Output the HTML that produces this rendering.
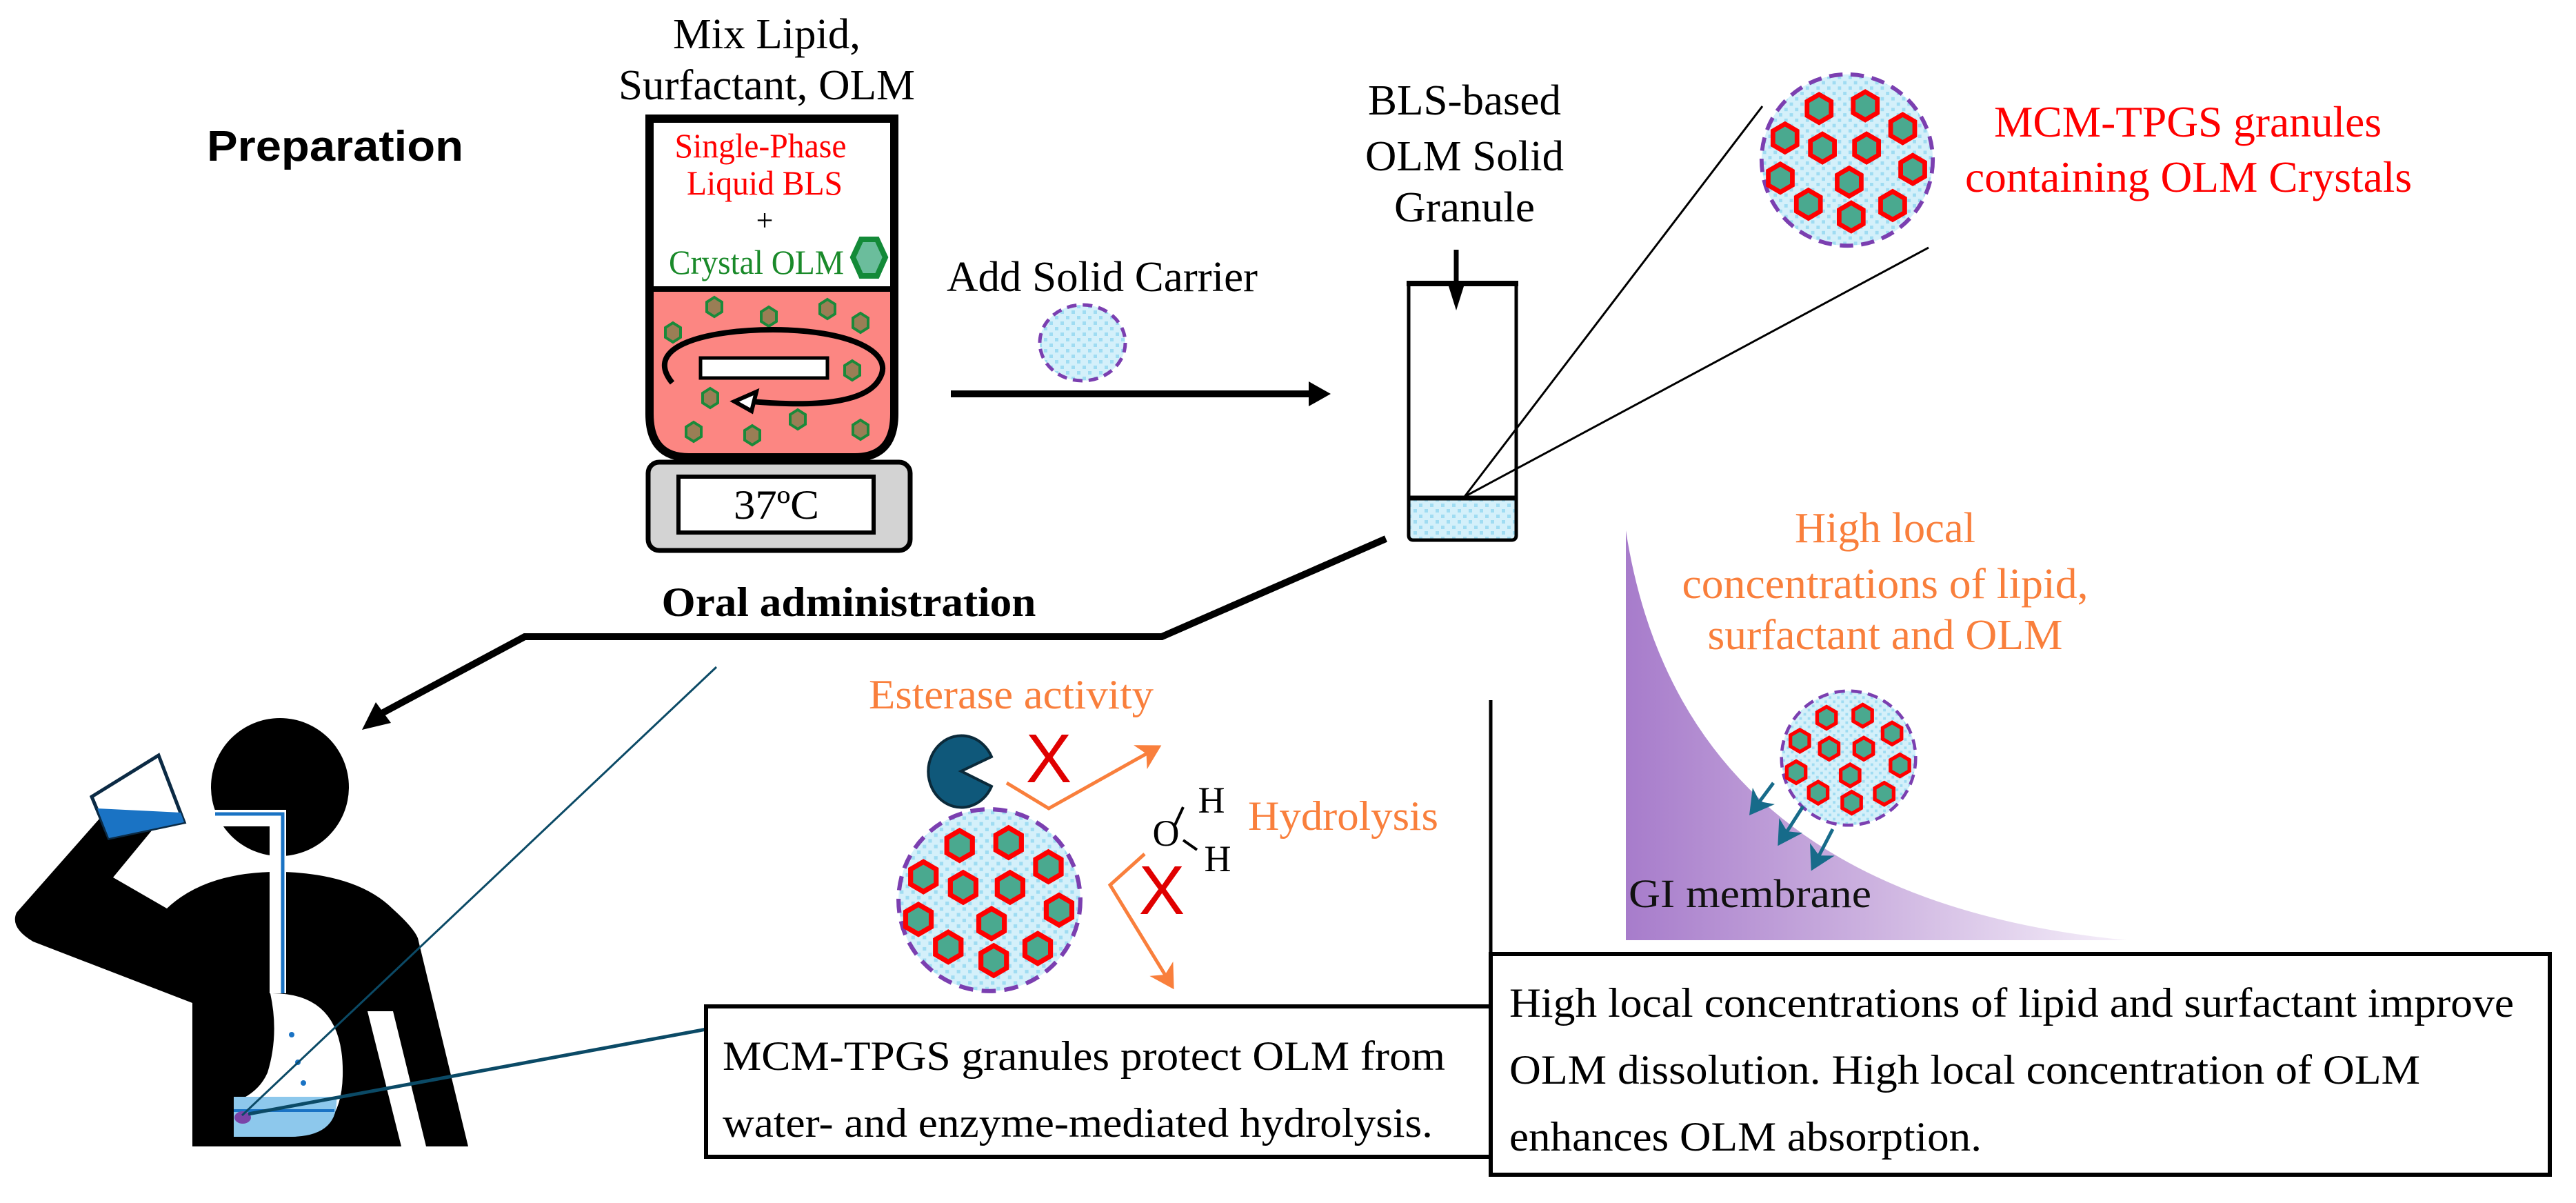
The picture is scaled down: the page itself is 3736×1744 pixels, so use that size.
<!DOCTYPE html>
<html><head><meta charset="utf-8"><style>html,body{margin:0;padding:0;background:#fff}svg{display:block}</style></head>
<body>
<svg xmlns="http://www.w3.org/2000/svg" width="3736" height="1744" viewBox="0 0 3736 1744" font-family="'Liberation Serif', serif">
<defs>
<pattern id="dots" width="16" height="16" patternUnits="userSpaceOnUse">
<rect width="16" height="16" fill="#d4f0fa"/>
<rect x="2" y="2" width="5" height="5" fill="#9fdcf2"/><rect x="10" y="10" width="5" height="5" fill="#9fdcf2"/>
</pattern>
<linearGradient id="pg" x1="0" y1="0" x2="1" y2="0">
<stop offset="0" stop-color="#a77ccb"/><stop offset="0.5" stop-color="#cdb3e0"/><stop offset="1" stop-color="#f6f0fa"/>
</linearGradient>
<polygon id="hx" points="0,-21 18,-10.5 18,10.5 0,21 -18,10.5 -18,-10.5" fill="#4aa98f" stroke="#ff0000" stroke-width="7"/>
<polygon id="sh" points="0,-14 11,-7 11,7 0,14 -11,7 -11,-7" fill="#9a7e55" stroke="#1a8a3a" stroke-width="4"/>
<g id="gran">
<circle r="128" fill="url(#dots)" stroke="#7b3fb0" stroke-width="6" stroke-dasharray="20 12"/>
<use href="#hx" x="-42" y="-77"/><use href="#hx" x="27" y="-81"/><use href="#hx" x="83" y="-47"/>
<use href="#hx" x="-93" y="-33"/><use href="#hx" x="-37" y="-18"/><use href="#hx" x="29" y="-18"/>
<use href="#hx" x="98" y="14"/><use href="#hx" x="-100" y="27"/><use href="#hx" x="3" y="33"/>
<use href="#hx" x="-58" y="66"/><use href="#hx" x="6" y="85"/><use href="#hx" x="68" y="68"/>
</g>
<marker id="ao" markerWidth="8" markerHeight="8" refX="6" refY="4" orient="auto" markerUnits="strokeWidth"><path d="M0,0 L7,4 L0,8 L2,4 Z" fill="#f97f3c"/></marker>
<marker id="at" markerWidth="8" markerHeight="8" refX="6" refY="4" orient="auto" markerUnits="strokeWidth"><path d="M0,0 L7,4 L0,8 L2,4 Z" fill="#176b8a"/></marker>
</defs>

<text x="300" y="233" font-family="'Liberation Sans', sans-serif" font-weight="bold" font-size="62" textLength="372" lengthAdjust="spacingAndGlyphs">Preparation</text>
<text x="1112" y="70" font-size="62" text-anchor="middle" textLength="272" lengthAdjust="spacingAndGlyphs">Mix Lipid,</text>
<text x="1112" y="144" font-size="62" text-anchor="middle" textLength="430" lengthAdjust="spacingAndGlyphs">Surfactant, OLM</text>

<path d="M942,419 L1297,419 L1297,600 Q1297,663 1240,663 L999,663 Q942,663 942,600 Z" fill="#fc8682"/>
<path d="M942,172 L1297,172 L1297,600 Q1297,663 1240,663 L999,663 Q942,663 942,600 Z" fill="none" stroke="#000" stroke-width="12"/>
<line x1="942" y1="419" x2="1297" y2="419" stroke="#000" stroke-width="8"/>
<text x="1103" y="228" font-size="50" fill="#ff0000" text-anchor="middle" textLength="249" lengthAdjust="spacingAndGlyphs">Single-Phase</text>
<text x="1109" y="282" font-size="50" fill="#ff0000" text-anchor="middle" textLength="226" lengthAdjust="spacingAndGlyphs">Liquid BLS</text>
<text x="1109" y="334" font-size="44" text-anchor="middle">+</text>
<text x="1097" y="397" font-size="50" fill="#1a8a2a" text-anchor="middle" textLength="254" lengthAdjust="spacingAndGlyphs">Crystal OLM</text>
<polygon points="1249,347 1272,347 1284,373 1272,400 1249,400 1237,373" fill="#6bbd9c" stroke="#138a38" stroke-width="8"/>
<g>
<use href="#sh" x="1036" y="445"/><use href="#sh" x="1115" y="459"/><use href="#sh" x="1200" y="448"/><use href="#sh" x="1248" y="468"/>
<use href="#sh" x="976" y="482"/><use href="#sh" x="1236" y="537"/><use href="#sh" x="1030" y="577"/><use href="#sh" x="1157" y="608"/>
<use href="#sh" x="1006" y="626"/><use href="#sh" x="1091" y="631"/><use href="#sh" x="1248" y="623"/>
</g>
<rect x="1016" y="519" width="184" height="29" fill="#fff" stroke="#000" stroke-width="5"/>
<path d="M975,555 C930,500 1030,478 1121,478 C1230,478 1300,510 1275,550 C1255,585 1180,590 1090,582" fill="none" stroke="#000" stroke-width="8"/>
<path d="M1065,582 L1097,568 L1090,596 Z" fill="#fff" stroke="#000" stroke-width="6"/>
<rect x="940" y="670" width="380" height="128" rx="16" fill="#d3d3d3" stroke="#000" stroke-width="7"/>
<rect x="984" y="691" width="283" height="81" fill="#fff" stroke="#000" stroke-width="6"/>
<text x="1126" y="752" font-size="60" text-anchor="middle" textLength="124" lengthAdjust="spacingAndGlyphs">37ºC</text>

<text x="1373" y="422" font-size="62" textLength="451" lengthAdjust="spacingAndGlyphs">Add Solid Carrier</text>
<ellipse cx="1570" cy="497" rx="62" ry="55" fill="url(#dots)" stroke="#7b3fb0" stroke-width="5" stroke-dasharray="14 9"/>
<line x1="1379" y1="571" x2="1905" y2="571" stroke="#000" stroke-width="10"/>
<path d="M1930,571 L1898,553 L1898,589 Z" fill="#000"/>

<text x="2124" y="166" font-size="62" text-anchor="middle" textLength="280" lengthAdjust="spacingAndGlyphs">BLS-based</text>
<text x="2124" y="247" font-size="62" text-anchor="middle" textLength="288" lengthAdjust="spacingAndGlyphs">OLM Solid</text>
<text x="2124" y="321" font-size="62" text-anchor="middle" textLength="204" lengthAdjust="spacingAndGlyphs">Granule</text>
<line x1="2112" y1="362" x2="2112" y2="420" stroke="#000" stroke-width="7"/>
<path d="M2112,450 L2101,415 L2123,415 Z" fill="#000"/>
<path d="M2043,722 L2199,722 L2199,776 Q2199,783 2192,783 L2050,783 Q2043,783 2043,776 Z" fill="url(#dots)"/>
<path d="M2043,410 L2043,776 Q2043,783 2050,783 L2192,783 Q2199,783 2199,776 L2199,410" fill="none" stroke="#000" stroke-width="5"/>
<line x1="2040" y1="411" x2="2202" y2="411" stroke="#000" stroke-width="8"/>
<line x1="2043" y1="722" x2="2199" y2="722" stroke="#000" stroke-width="7"/>
<line x1="2124" y1="720" x2="2556" y2="154" stroke="#000" stroke-width="3"/>
<line x1="2124" y1="720" x2="2797" y2="359" stroke="#000" stroke-width="3"/>
<use href="#gran" transform="translate(2679,232) scale(0.97)"/>
<text x="3173" y="198" font-size="64" fill="#ff0000" text-anchor="middle" textLength="562" lengthAdjust="spacingAndGlyphs">MCM-TPGS granules</text>
<text x="3174" y="278" font-size="64" fill="#ff0000" text-anchor="middle" textLength="648" lengthAdjust="spacingAndGlyphs">containing OLM Crystals</text>

<text x="1231" y="893" font-size="60" font-weight="bold" text-anchor="middle" textLength="543" lengthAdjust="spacingAndGlyphs">Oral administration</text>
<polyline points="2010,781 1685,923 761,923 552,1035" fill="none" stroke="#000" stroke-width="10"/>
<path d="M525,1058 L545,1018 L567,1048 Z" fill="#000"/>

<circle cx="406" cy="1141" r="100" fill="#000"/>
<path d="M24,1323 L145,1186 L230,1192 L164,1272 L242,1317 Q300,1262 412,1264 Q520,1268 570,1318 Q600,1345 606,1360 L679,1662 L279,1662 L279,1454 L48,1365 Q14,1345 24,1323 Z" fill="#000"/>
<polygon points="533,1466 570,1466 618,1662 582,1662" fill="#fff"/>
<polygon points="133,1155 230,1095 267,1192 158,1215" fill="#fff" stroke="#0b2a44" stroke-width="5"/>
<polygon points="141,1172 262,1178 267,1192 158,1215" fill="#1a73c4"/>
<path d="M310,1186 L403,1186 L403,1440" fill="none" stroke="#fff" stroke-width="24"/>
<path d="M312,1180 L410,1180 L410,1440" fill="none" stroke="#1a73c4" stroke-width="5"/>
<path d="M395,1440 Q500,1440 497,1560 Q495,1648 420,1648 L339,1648 L339,1598 Q375,1585 388,1555 Q405,1500 392,1440 Z" fill="#fff"/>
<path d="M339,1590 L488,1590 Q492,1648 420,1648 L339,1648 Z" fill="#8dc8ec"/>
<path d="M339,1610 L485,1610" stroke="#1a73c4" stroke-width="4"/>
<circle cx="423" cy="1500" r="4" fill="#1a73c4"/><circle cx="432" cy="1540" r="4" fill="#1a73c4"/><circle cx="440" cy="1570" r="4" fill="#1a73c4"/>
<ellipse cx="352" cy="1620" rx="12" ry="9" fill="#7a44a8"/>
<line x1="1039" y1="967" x2="351" y2="1617" stroke="#0b4a66" stroke-width="3"/>
<line x1="1030" y1="1491" x2="360" y2="1615" stroke="#0b4a66" stroke-width="5"/>

<text x="1260" y="1027" font-size="60" fill="#f97f3c" textLength="413" lengthAdjust="spacingAndGlyphs">Esterase activity</text>
<path d="M1394,1118 L1438,1097 A48,52 0 1 0 1438,1140 Z" fill="#0f587a" stroke="#0b2a3a" stroke-width="4"/>
<text x="1521" y="1134" font-size="100" fill="#e00000" font-family="'Liberation Sans', sans-serif" text-anchor="middle">X</text>
<polyline points="1460,1135 1521,1172 1680,1083" fill="none" stroke="#f97f3c" stroke-width="5" marker-end="url(#ao)"/>
<use href="#gran" transform="translate(1435,1305) scale(1.03)"/>
<text x="1691" y="1226" font-size="54" text-anchor="middle">O</text>
<text x="1757" y="1178" font-size="54" text-anchor="middle">H</text>
<text x="1766" y="1263" font-size="54" text-anchor="middle">H</text>
<line x1="1704" y1="1196" x2="1716" y2="1170" stroke="#000" stroke-width="4"/>
<line x1="1716" y1="1218" x2="1736" y2="1232" stroke="#000" stroke-width="4"/>
<text x="1810" y="1203" font-size="60" fill="#f97f3c" textLength="276" lengthAdjust="spacingAndGlyphs">Hydrolysis</text>
<text x="1685" y="1325" font-size="100" fill="#e00000" font-family="'Liberation Sans', sans-serif" text-anchor="middle">X</text>
<polyline points="1660,1238 1610,1283 1700,1430" fill="none" stroke="#f97f3c" stroke-width="5" marker-end="url(#ao)"/>

<path d="M2358,769 Q2440,1300 3084,1363 L2358,1363 Z" fill="url(#pg)"/>
<text x="2734" y="786" font-size="62" fill="#f97f3c" text-anchor="middle" textLength="262" lengthAdjust="spacingAndGlyphs">High local</text>
<text x="2734" y="867" font-size="62" fill="#f97f3c" text-anchor="middle" textLength="589" lengthAdjust="spacingAndGlyphs">concentrations of lipid,</text>
<text x="2734" y="941" font-size="62" fill="#f97f3c" text-anchor="middle" textLength="515" lengthAdjust="spacingAndGlyphs">surfactant and OLM</text>
<use href="#gran" transform="translate(2681,1099) scale(0.76)"/>
<line x1="2572" y1="1135" x2="2540" y2="1178" stroke="#176b8a" stroke-width="5" marker-end="url(#at)"/>
<line x1="2615" y1="1169" x2="2581" y2="1222" stroke="#176b8a" stroke-width="5" marker-end="url(#at)"/>
<line x1="2658" y1="1202" x2="2629" y2="1258" stroke="#176b8a" stroke-width="5" marker-end="url(#at)"/>
<text x="2362" y="1315" font-size="58" fill="#111" textLength="352" lengthAdjust="spacingAndGlyphs">GI membrane</text>

<line x1="2162" y1="1015" x2="2162" y2="1383" stroke="#000" stroke-width="5"/>
<rect x="1024" y="1459" width="1138" height="218" fill="#fff" stroke="#000" stroke-width="6"/>
<text x="1048" y="1551" font-size="60" textLength="1048" lengthAdjust="spacingAndGlyphs">MCM-TPGS granules protect OLM from</text>
<text x="1048" y="1648" font-size="60" textLength="1030" lengthAdjust="spacingAndGlyphs">water- and enzyme-mediated hydrolysis.</text>
<rect x="2162" y="1383" width="1536" height="320" fill="#fff" stroke="#000" stroke-width="6"/>
<text x="2189" y="1474" font-size="60" textLength="1457" lengthAdjust="spacingAndGlyphs">High local concentrations of lipid and surfactant improve</text>
<text x="2189" y="1571" font-size="60" textLength="1321" lengthAdjust="spacingAndGlyphs">OLM dissolution. High local concentration of OLM</text>
<text x="2189" y="1668" font-size="60" textLength="685" lengthAdjust="spacingAndGlyphs">enhances OLM absorption.</text>
</svg>
</body></html>
